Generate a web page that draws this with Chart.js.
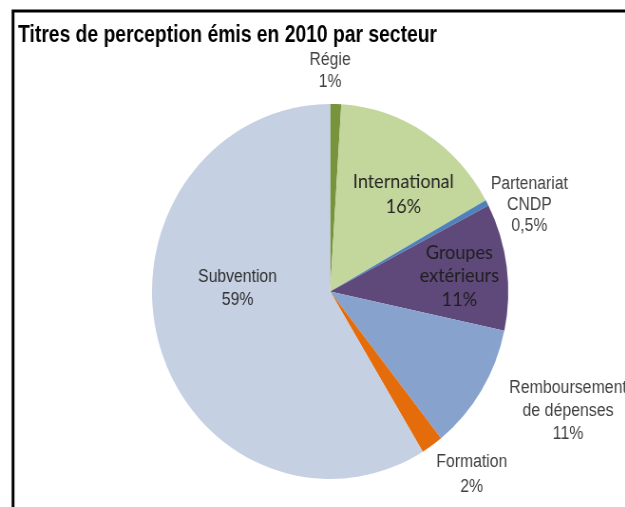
<!DOCTYPE html>
<html>
<head>
<meta charset="utf-8">
<script src="https://cdn.jsdelivr.net/npm/chart.js@4"></script>
<style>
  html, body { margin: 0; padding: 0; background: #fff; overflow: hidden; }
  /* the original picture is squeezed a little in width */
  #wrap { width: 736px; height: 507px; transform: scaleX(0.95); transform-origin: 0 0; }
</style>
</head>
<body>
<div id="wrap"><canvas id="myChart"></canvas></div>
<script>
// titres de perception 2010, part par secteur (%)
var sectors = ['Régie', 'International', 'Partenariat CNDP', 'Groupes extérieurs',
	'Remboursement de dépenses', 'Formation', 'Subvention'];
var shares = [1, 16, 0.5, 11, 11, 2, 59];
var labelLines = [['Régie'], ['International'], ['Partenariat', 'CNDP'], ['Groupes', 'extérieurs'],
	['Remboursement', 'de dépenses'], ['Formation'], ['Subvention']];
var chartTitle = 'Titres de perception émis en 2010 par secteur';

var sliceColors = ['#77933C', '#C3D69B', '#4F81BD', '#5F497A', '#86A2CD', '#E46C0A', '#C5D0E3'];

var NARROW = '"Liberation Sans", Arial, sans-serif';
var SOFT = 'Lato, "Open Sans", sans-serif';

// where each label sits: radius factor, angle shift (deg), font, size, squeeze, colour, line step
var placement = [
	{ f: 1.175, d: -1.8, font: NARROW, size: 18, sx: 0.92, color: '#404040', step: 22 },
	{ f: 0.66, d: 6.3, font: SOFT, size: 19, sx: 1, color: '#262626', step: 25 },
	{ f: 1.21, d: 5.8, font: NARROW, size: 18, sx: 0.92, color: '#404040', step: 21 },
	{ f: 0.73, d: 1.1, font: SOFT, size: 19, sx: 1, color: '#1e1e1e', step: 23.5 },
	{ f: 1.48, d: -6.3, font: NARROW, size: 18, sx: 0.93, color: '#404040', step: 23 },
	{ f: 1.26, d: -4.2, font: NARROW, size: 18, sx: 0.92, color: '#404040', step: 25 },
	{ f: 0.52, d: 17.5, font: NARROW, size: 18, sx: 0.92, color: '#303030', step: 23 }
];

function pctText(v) {
	return String(v).replace('.', ',') + '%';
}

var frameAndLabels = {
	id: 'frameAndLabels',
	beforeDraw: function(chart) {
		var c = chart.ctx;
		c.save();
		c.strokeStyle = '#000';
		c.lineWidth = 3;
		c.beginPath();
		c.moveTo(13.7, chart.height);
		c.lineTo(13.7, 11);
		c.lineTo(chart.width, 11);
		c.stroke();

		// title, narrow bold like the original
		c.font = 'bold 23px ' + NARROW;
		c.fillStyle = '#000';
		c.textBaseline = 'alphabetic';
		c.textAlign = 'left';
		var w = c.measureText(chartTitle).width;
		c.translate(19, 42);
		c.scale(441 / w, 1);
		c.fillText(chartTitle, 0, 0);
		c.restore();
	},
	afterDatasetsDraw: function(chart) {
		var c = chart.ctx;
		var meta = chart.getDatasetMeta(0);
		meta.data.forEach(function(arc, i) {
			var p = arc.getProps(['x', 'y', 'startAngle', 'endAngle', 'outerRadius'], true);
			var pl = placement[i];
			var mid = (p.startAngle + p.endAngle) / 2 + pl.d * Math.PI / 180;
			var cx = p.x + Math.cos(mid) * p.outerRadius * pl.f;
			var cy = p.y + Math.sin(mid) * p.outerRadius * pl.f;
			var lines = labelLines[i].concat([pctText(shares[i])]);
			var y0 = cy - (lines.length - 1) * pl.step / 2;
			c.save();
			c.translate(cx, 0);
			c.scale(pl.sx, 1);
			c.textAlign = 'center';
			c.textBaseline = 'middle';
			c.font = pl.size + 'px ' + pl.font;
			c.fillStyle = pl.color;
			lines.forEach(function(t, k) {
				c.fillText(t, 0, y0 + k * pl.step);
			});
			c.restore();
		});
	}
};

var ctx = document.getElementById('myChart');
var myChart = new Chart(ctx, {
	type: 'pie',
	data: {
		labels: sectors,
		datasets: [{
			data: shares,
			backgroundColor: sliceColors,
			borderWidth: 0
		}]
	},
	options: {
		responsive: true,
		maintainAspectRatio: false,
		animation: false,
		layout: { padding: { left: 160, right: 201, top: 104, bottom: 28 } },
		plugins: {
			legend: { display: false },
			tooltip: { enabled: false },
			title: { display: false }
		}
	},
	plugins: [frameAndLabels]
});
</script>
</body>
</html>
